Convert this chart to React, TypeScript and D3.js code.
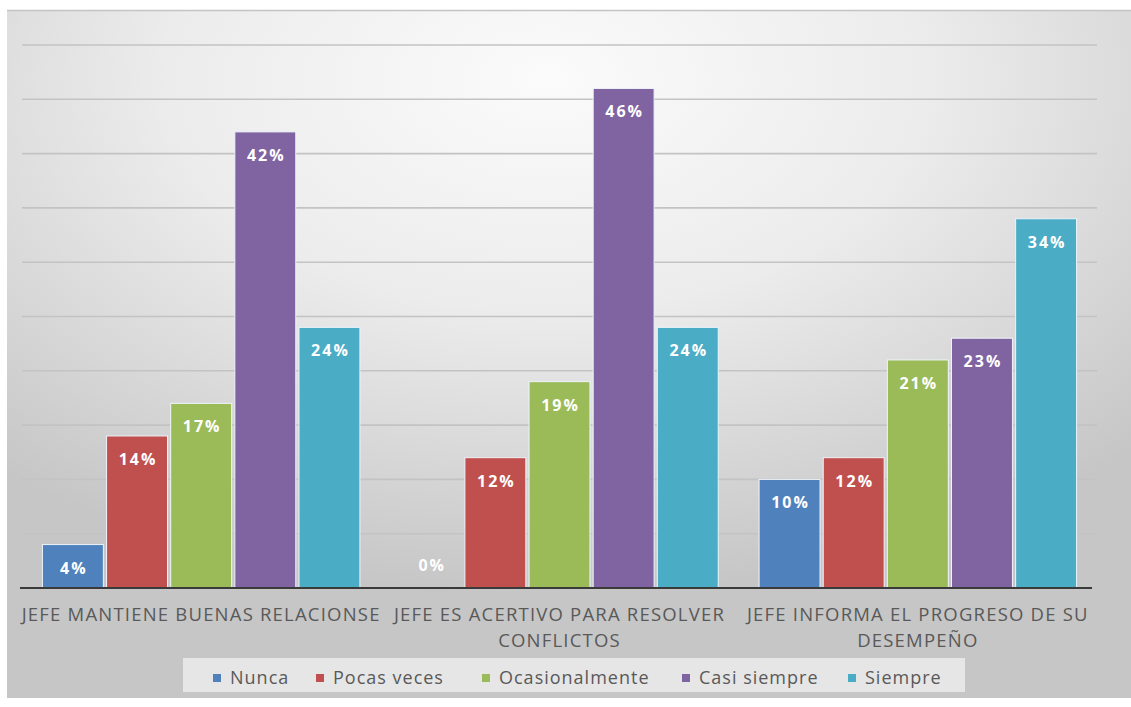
import React from "react";
import * as d3 from "d3";

const categories: string[][] = [
  ["JEFE MANTIENE BUENAS RELACIONSE"],
  ["JEFE ES ACERTIVO PARA RESOLVER", "CONFLICTOS"],
  ["JEFE INFORMA EL PROGRESO DE SU", "DESEMPEÑO"],
];
const seriesNames = ["Nunca", "Pocas veces", "Ocasionalmente", "Casi siempre", "Siempre"];
const seriesColors = ["#4f81bd", "#c0504d", "#9bbb59", "#8064a2", "#4bacc6"];
const nunca = [4, 0, 10];
const pocasVeces = [14, 12, 12];
const ocasionalmente = [17, 19, 21];
const casiSiempre = [42, 46, 23];
const siempre = [24, 24, 34];
const seriesValues = [nunca, pocasVeces, ocasionalmente, casiSiempre, siempre];
const gridTicks = [0, 5, 10, 15, 20, 25, 30, 35, 40, 45, 50];

const W = 1131;
const H = 707;
const plotLeft = 22;
const plotRight = 1097;
const plotTop = 45;
const plotBottom = 588;

export default function App() {
  const y = d3.scaleLinear().domain([0, 50]).range([plotBottom, plotTop]);
  const x0 = d3
    .scaleBand<number>()
    .domain(d3.range(categories.length))
    .range([plotLeft, plotRight])
    .paddingInner(0)
    .paddingOuter(0);
  const bw = x0.bandwidth();
  const x1 = d3
    .scaleBand<number>()
    .domain(d3.range(seriesNames.length))
    .range([bw * 0.057, bw * 0.943])
    .paddingInner(0.05);

  const legendX = [213, 316, 482, 682, 848];
  const font = "'Open Sans', 'Liberation Sans', sans-serif";

  return (
    <svg
      width={W}
      height={H}
      style={{ position: "absolute", left: 0, top: 0 }}
      fontFamily={font}
    >
      <defs>
        <radialGradient id="bg" cx="48%" cy="10%" r="75%" fx="48%" fy="10%">
          <stop offset="0%" stopColor="#fbfbfb" />
          <stop offset="45%" stopColor="#ececec" />
          <stop offset="100%" stopColor="#c6c6c6" />
        </radialGradient>
      </defs>
      <rect x={0} y={0} width={W} height={H} fill="#ffffff" />
      <rect x={7} y={10} width={W - 7} height={688} fill="url(#bg)" />
      <line x1={7} x2={W} y1={10.5} y2={10.5} stroke="#c4c4c4" strokeWidth={1.5} />

      {gridTicks.slice(1).map((t) => (
        <line
          key={t}
          x1={plotLeft}
          x2={plotRight}
          y1={y(t)}
          y2={y(t)}
          stroke="#c3c3c3"
          strokeWidth={1.6}
        />
      ))}

      {categories.map((_, ci) =>
        seriesValues.map((vals, si) => {
          const v = vals[ci];
          const bx = (x0(ci) as number) + (x1(si) as number);
          const top = y(v);
          return (
            <g key={`${ci}-${si}`}>
              {v > 0 && (
                <rect
                  x={bx}
                  y={top}
                  width={x1.bandwidth()}
                  height={plotBottom - top}
                  fill={seriesColors[si]}
                  stroke="#eef4fa"
                  strokeWidth={1}
                />
              )}
              <text
                x={bx + x1.bandwidth() / 2 + 1}
                y={v > 0 ? top + 29 : plotBottom - 17}
                textAnchor="middle"
                fill="#ffffff"
                fontWeight="bold"
                fontSize={16}
                letterSpacing={2}
              >
                {`${v}%`}
              </text>
            </g>
          );
        })
      )}

      <line x1={plotLeft - 2} x2={plotRight - 5} y1={plotBottom} y2={plotBottom} stroke="#3a3a3a" strokeWidth={2} />

      {categories.map((lines, ci) => (
        <text
          key={ci}
          x={(x0(ci) as number) + bw / 2}
          y={621}
          textAnchor="middle"
          fill="#595959"
          fontSize={18.5}
          letterSpacing={1.2}
        >
          {lines.map((l, li) => (
            <tspan key={li} x={(x0(ci) as number) + bw / 2} dy={li === 0 ? 0 : 26}>
              {l}
            </tspan>
          ))}
        </text>
      ))}

      <rect x={183} y={658} width={782} height={34} fill="#ebebeb" opacity={0.85} />
      {seriesNames.map((name, si) => (
        <g key={name}>
          <rect x={legendX[si]} y={674} width={8} height={8} fill={seriesColors[si]} />
          <text x={legendX[si] + 17} y={684} fill="#595959" fontSize={18} letterSpacing={1}>
            {name}
          </text>
        </g>
      ))}
    </svg>
  );
}
